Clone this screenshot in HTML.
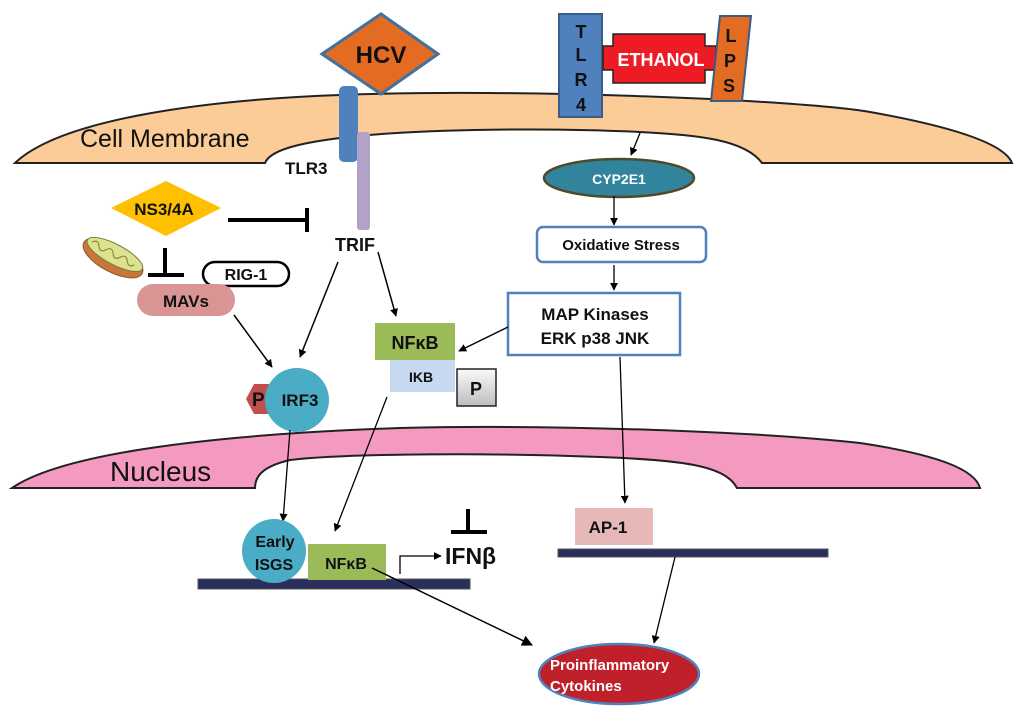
<!DOCTYPE html>
<html><head><meta charset="utf-8"><style>
html,body{margin:0;padding:0;background:#fff;}
svg{display:block;font-family:"Liberation Sans",Arial,sans-serif;}
.b{font-weight:bold;}
</style></head><body>
<svg width="1024" height="722" viewBox="0 0 1024 722" xmlns="http://www.w3.org/2000/svg">
<defs>
<marker id="ar" viewBox="0 0 10 10" refX="9" refY="5" markerWidth="8" markerHeight="8" orient="auto" markerUnits="userSpaceOnUse"><path d="M0,0 L10,5 L0,10 z" fill="#000"/></marker>
<marker id="ar2" viewBox="0 0 10 10" refX="9" refY="5" markerWidth="11" markerHeight="11" orient="auto" markerUnits="userSpaceOnUse"><path d="M0,0 L10,5 L0,10 z" fill="#000"/></marker>
<linearGradient id="pg" x1="0" y1="0" x2="0" y2="1"><stop offset="0" stop-color="#fafafa"/><stop offset="1" stop-color="#bdbdbd"/></linearGradient>
</defs>

<!-- Cell membrane -->
<path d="M15,163 C60,120 200,100 340,95 C520,88 800,100 870,112 C960,128 1005,145 1012,163 L762,163 C745,140 700,135 640,132 C560,128 420,128 340,138 C300,143 270,150 265,163 Z" fill="#FBCB98" stroke="#222" stroke-width="2"/>
<text x="80" y="147" font-size="25" fill="#111">Cell Membrane</text>

<!-- Nucleus -->
<path d="M12,488 C60,455 200,435 400,428 C560,424 760,432 860,443 C940,455 975,470 980,488 L737,488 C725,465 680,460 600,457 C500,453 350,453 290,460 C260,467 255,478 255,488 Z" fill="#F49AC1" stroke="#222" stroke-width="2"/>
<text x="110" y="481" font-size="28" fill="#111">Nucleus</text>

<!-- HCV -->
<polygon points="322,54 381,14 438,54 381,94" fill="#E46C22" stroke="#41719C" stroke-width="3"/>
<text x="381" y="63" font-size="24" text-anchor="middle" class="b" fill="#111">HCV</text>

<!-- TLR3 -->
<rect x="339" y="86" width="19" height="76" rx="5" fill="#4F81BD"/>
<rect x="357" y="132" width="13" height="98" rx="3" fill="#B3A2C7"/>
<text x="285" y="174" font-size="17" class="b" fill="#111">TLR3</text>

<!-- TLR4 / ETHANOL / LPS -->
<rect x="559" y="14" width="43" height="103" fill="#4F81BD" stroke="#385D8A" stroke-width="2"/>
<text x="581" y="38" font-size="18" text-anchor="middle" class="b" fill="#111">T</text>
<text x="581" y="61" font-size="18" text-anchor="middle" class="b" fill="#111">L</text>
<text x="581" y="86" font-size="18" text-anchor="middle" class="b" fill="#111">R</text>
<text x="581" y="111" font-size="18" text-anchor="middle" class="b" fill="#111">4</text>
<path d="M603,46 L613,46 L613,34 L705,34 L705,46 L716,46 L716,70 L705,70 L705,83 L613,83 L613,70 L603,70 Z" fill="#ED1C24" stroke="#222" stroke-width="1.5"/>
<text x="661" y="66" font-size="18" text-anchor="middle" class="b" fill="#fff">ETHANOL</text>
<polygon points="720,16 751,16 742,101 711,101" fill="#E46C22" stroke="#385D8A" stroke-width="2"/>
<text x="731" y="42" font-size="18" text-anchor="middle" class="b" fill="#111">L</text>
<text x="730" y="67" font-size="18" text-anchor="middle" class="b" fill="#111">P</text>
<text x="729" y="92" font-size="18" text-anchor="middle" class="b" fill="#111">S</text>

<!-- CYP2E1 pathway -->
<line x1="640" y1="133" x2="631" y2="155" stroke="#000" stroke-width="1.3" marker-end="url(#ar)"/>
<ellipse cx="619" cy="178" rx="75" ry="19" fill="#31849B" stroke="#4F4A2A" stroke-width="2.5"/>
<text x="619" y="184" font-size="14" text-anchor="middle" class="b" fill="#fff">CYP2E1</text>
<line x1="614" y1="196" x2="614" y2="225" stroke="#000" stroke-width="1.3" marker-end="url(#ar)"/>
<rect x="537" y="227" width="169" height="35" rx="6" fill="#fff" stroke="#4F81BD" stroke-width="2.5"/>
<text x="621" y="250" font-size="15" text-anchor="middle" class="b" fill="#111">Oxidative Stress</text>
<line x1="614" y1="265" x2="614" y2="290" stroke="#000" stroke-width="1.3" marker-end="url(#ar)"/>
<rect x="508" y="293" width="172" height="62" fill="#fff" stroke="#4F81BD" stroke-width="2.5"/>
<text x="595" y="320" font-size="17" text-anchor="middle" class="b" fill="#111">MAP Kinases</text>
<text x="595" y="344" font-size="17" text-anchor="middle" class="b" fill="#111">ERK p38 JNK</text>
<line x1="508" y1="327" x2="459" y2="351" stroke="#000" stroke-width="1.5" marker-end="url(#ar)"/>
<line x1="620" y1="357" x2="625" y2="503" stroke="#000" stroke-width="1.3" marker-end="url(#ar)"/>

<!-- NS3/4A -->
<polygon points="111,208 166,181 221,208 166,236" fill="#FFC000"/>
<text x="164" y="215" font-size="17" text-anchor="middle" class="b" fill="#111">NS3/4A</text>
<line x1="228" y1="220" x2="307" y2="220" stroke="#000" stroke-width="4"/>
<line x1="307" y1="208" x2="307" y2="232" stroke="#000" stroke-width="4"/>

<!-- mitochondria -->
<g transform="rotate(28 113 258)">
<ellipse cx="113" cy="258" rx="33" ry="14" fill="#C8763A" stroke="#8a5a2a" stroke-width="1"/>
<ellipse cx="113" cy="254" rx="31" ry="10" fill="#DDE28E" stroke="#7a7a40" stroke-width="1"/>
<path d="M87,254 q4,-6 8,0 q4,6 8,0 q4,-6 8,0 q4,6 8,0 q4,-6 8,0 q4,6 8,0" fill="none" stroke="#8a8a40" stroke-width="1.2"/>
</g>
<line x1="165" y1="248" x2="165" y2="276" stroke="#000" stroke-width="4"/>
<line x1="148" y1="275" x2="184" y2="275" stroke="#000" stroke-width="4"/>

<!-- RIG-1 & MAVs -->
<rect x="203" y="262" width="86" height="24" rx="12" fill="#fff" stroke="#000" stroke-width="2.5"/>
<text x="246" y="280" font-size="16" text-anchor="middle" class="b" fill="#111">RIG-1</text>
<rect x="137" y="284" width="98" height="32" rx="16" fill="#D99594"/>
<text x="186" y="307" font-size="17" text-anchor="middle" class="b" fill="#111">MAVs</text>

<!-- TRIF -->
<text x="355" y="251" font-size="18" text-anchor="middle" class="b" fill="#111">TRIF</text>
<line x1="338" y1="262" x2="300" y2="357" stroke="#000" stroke-width="1.5" marker-end="url(#ar)"/>
<line x1="378" y1="252" x2="396" y2="316" stroke="#000" stroke-width="1.5" marker-end="url(#ar)"/>
<line x1="234" y1="315" x2="272" y2="367" stroke="#000" stroke-width="1.5" marker-end="url(#ar)"/>

<!-- NFkB / IKB / P -->
<rect x="375" y="323" width="80" height="37" fill="#9BBB59"/>
<text x="415" y="349" font-size="18" text-anchor="middle" class="b" fill="#111">NFκB</text>
<rect x="390" y="360" width="65" height="32" fill="#C6D9F0"/>
<text x="421" y="382" font-size="14" text-anchor="middle" class="b" fill="#111">IKB</text>
<rect x="457" y="369" width="39" height="37" fill="url(#pg)" stroke="#222" stroke-width="1.5"/>
<text x="476" y="395" font-size="18" text-anchor="middle" class="b" fill="#111">P</text>

<!-- IRF3 -->
<polygon points="246,399 254,384 272,384 278,399 272,414 254,414" fill="#C0504D"/>
<text x="252" y="406" font-size="19" class="b" fill="#111">P</text>
<circle cx="297" cy="400" r="32" fill="#4BACC6"/>
<text x="300" y="406" font-size="17" text-anchor="middle" class="b" fill="#111">IRF3</text>

<!-- arrows into nucleus -->
<line x1="290" y1="430" x2="283" y2="521" stroke="#000" stroke-width="1.3" marker-end="url(#ar)"/>
<line x1="387" y1="397" x2="335" y2="531" stroke="#000" stroke-width="1.3" marker-end="url(#ar)"/>

<!-- DNA bars -->
<rect x="198" y="579" width="272" height="10" fill="#2B2F5E" stroke="#555" stroke-width="1"/>
<rect x="558" y="549" width="270" height="8" fill="#2B2F5E" stroke="#555" stroke-width="1"/>

<!-- Early ISGS -->
<circle cx="274" cy="551" r="32" fill="#4BACC6"/>
<text x="275" y="547" font-size="16" text-anchor="middle" class="b" fill="#111">Early</text>
<text x="274" y="570" font-size="16" text-anchor="middle" class="b" fill="#111">ISGS</text>
<rect x="308" y="544" width="78" height="36" fill="#9BBB59"/>
<text x="346" y="569" font-size="16" text-anchor="middle" class="b" fill="#111">NFκB</text>

<!-- IFNb -->
<path d="M400,574 L400,556 L441,556" fill="none" stroke="#000" stroke-width="1.3" marker-end="url(#ar)"/>
<text x="445" y="564" font-size="23" class="b" fill="#111">IFNβ</text>
<line x1="468" y1="509" x2="468" y2="532" stroke="#000" stroke-width="4"/>
<line x1="451" y1="532" x2="487" y2="532" stroke="#000" stroke-width="4"/>

<!-- AP-1 -->
<rect x="575" y="508" width="78" height="37" fill="#E6B9B8"/>
<text x="608" y="533" font-size="17" text-anchor="middle" class="b" fill="#111">AP-1</text>

<!-- to cytokines -->
<line x1="372" y1="568" x2="532" y2="645" stroke="#000" stroke-width="1.5" marker-end="url(#ar2)"/>
<line x1="675" y1="557" x2="654" y2="643" stroke="#000" stroke-width="1.3" marker-end="url(#ar)"/>
<ellipse cx="619" cy="674" rx="80" ry="30" fill="#C0202A" stroke="#4F81BD" stroke-width="2.5"/>
<text x="550" y="670" font-size="15" class="b" fill="#fff">Proinflammatory</text>
<text x="550" y="691" font-size="15" class="b" fill="#fff">Cytokines</text>
</svg>
</body></html>
